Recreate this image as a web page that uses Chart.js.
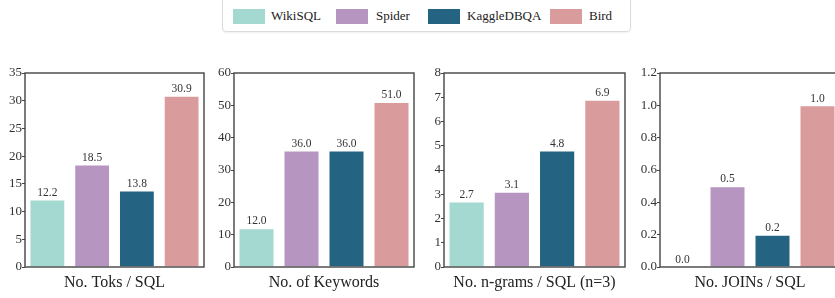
<!DOCTYPE html>
<html>
<head>
<meta charset="utf-8">
<script src="https://cdn.jsdelivr.net/npm/chart.js@4/dist/chart.umd.min.js"></script>
<style>
  html, body { margin:0; padding:0; width:835px; height:298px; overflow:hidden; background:#fff; }
  canvas { position:absolute; }
  #legend { position:absolute; left:222px; top:-6px; width:409px; height:38px; border:1px solid #dcdcdc; border-radius:4px; box-sizing:border-box; font-family:"Liberation Serif", "Times New Roman", serif; font-size:13px; color:#222; box-shadow:0 1px 2px rgba(0,0,0,0.06); }
  .sw { position:absolute; top:14px; width:32px; height:15px; }
  .lt { position:absolute; top:12px; line-height:18px; white-space:nowrap; }
</style>
</head>
<body>
<div id="legend"></div>
<canvas id="c0"></canvas>
<canvas id="c1"></canvas>
<canvas id="c2"></canvas>
<canvas id="c3"></canvas>
<script>
// ---- data ----
const datasets = ["WikiSQL", "Spider", "KaggleDBQA", "Bird"];
const colors = ["#a3d9d0", "#b695c1", "#246482", "#d99b9c"];
const titles = ["No. Toks / SQL", "No. of Keywords", "No. n-grams / SQL (n=3)", "No. JOINs / SQL"];
const toksPerSQL = [12.2, 18.5, 13.8, 30.9];
const keywords = [12.0, 36.0, 36.0, 51.0];
const ngramsPerSQL = [2.7, 3.1, 4.8, 6.9];
const joinsPerSQL = [0.0, 0.5, 0.2, 1.0];
const yMax = [35, 60, 8, 1.2];
const yStep = [5, 10, 1, 0.2];
const yDecimals = [0, 0, 0, 1];
const series = [toksPerSQL, keywords, ngramsPerSQL, joinsPerSQL];

// ---- layout ----
const axisLeft = [25, 234, 444, 660];
const axisWidth = [179, 180, 181, 180];
const yAxisW = 32;
const canvasTop = 60, canvasH = 238;
const padTop = 13, xAxisH = 31;

// legend (HTML)
const legendPos = [[10, 48], [113, 153], [205, 244], [327, 366]];
const lg = document.getElementById('legend');
datasets.forEach((name, i) => {
  const s = document.createElement('div');
  s.className = 'sw'; s.style.left = legendPos[i][0] + 'px'; s.style.background = colors[i];
  const t = document.createElement('div');
  t.className = 'lt'; t.style.left = legendPos[i][1] + 'px'; t.textContent = name;
  lg.appendChild(s); lg.appendChild(t);
});

const FONT = "'Liberation Serif', 'Times New Roman', serif";

const boxPlugin = {
  id: 'box',
  afterDraw(chart) {
    const {ctx, chartArea: a} = chart;
    ctx.save();
    ctx.strokeStyle = '#444';
    ctx.lineWidth = 1.4;
    ctx.strokeRect(a.left, a.top, a.right - a.left, a.bottom - a.top);
    ctx.restore();
  }
};
const valuePlugin = {
  id: 'vals',
  afterDatasetsDraw(chart) {
    const {ctx} = chart;
    const meta = chart.getDatasetMeta(0);
    const data = chart.data.datasets[0].data;
    ctx.save();
    ctx.font = "11.5px " + FONT;
    ctx.fillStyle = '#333';
    ctx.textAlign = 'center';
    ctx.textBaseline = 'bottom';
    meta.data.forEach((bar, i) => {
      ctx.fillText(data[i].toFixed(1), bar.x, bar.y - 1);
    });
    ctx.restore();
  }
};

series.forEach((vals, k) => {
  const cv = document.getElementById('c' + k);
  const w = yAxisW + axisWidth[k] + 3;
  cv.width = w; cv.height = canvasH;
  cv.style.width = w + 'px'; cv.style.height = canvasH + 'px';
  cv.style.left = (axisLeft[k] - yAxisW) + 'px';
  cv.style.top = canvasTop + 'px';
  new Chart(cv, {
    type: 'bar',
    data: {
      labels: datasets,
      datasets: [{
        data: vals,
        backgroundColor: colors,
        borderColor: 'rgba(255,255,255,0.85)',
        borderWidth: 1,
        barPercentage: 0.8,
        categoryPercentage: 1.0
      }]
    },
    options: {
      responsive: false,
      animation: false,
      devicePixelRatio: 1,
      layout: { padding: { top: padTop, right: 3, left: 0, bottom: 0 } },
      plugins: { legend: { display: false }, tooltip: { enabled: false } },
      scales: {
        x: {
          grid: { display: false },
          border: { display: false },
          ticks: { display: false },
          title: { display: true, text: titles[k], font: { family: FONT, size: 16 }, color: '#222', padding: { top: 0, bottom: 6 } },
          afterFit(s) { s.height = xAxisH; }
        },
        y: {
          min: 0, max: yMax[k],
          border: { display: false },
          grid: { display: true, drawOnChartArea: false, drawTicks: true, tickLength: 3, color: '#444', lineWidth: 1 },
          ticks: {
            stepSize: yStep[k], padding: 0, color: '#333',
            font: { family: FONT, size: 13 },
            callback: (v) => Number(v).toFixed(yDecimals[k])
          },
          afterFit(s) { s.width = yAxisW; }
        }
      }
    },
    plugins: [valuePlugin, boxPlugin]
  });
});
</script>
</body>
</html>
